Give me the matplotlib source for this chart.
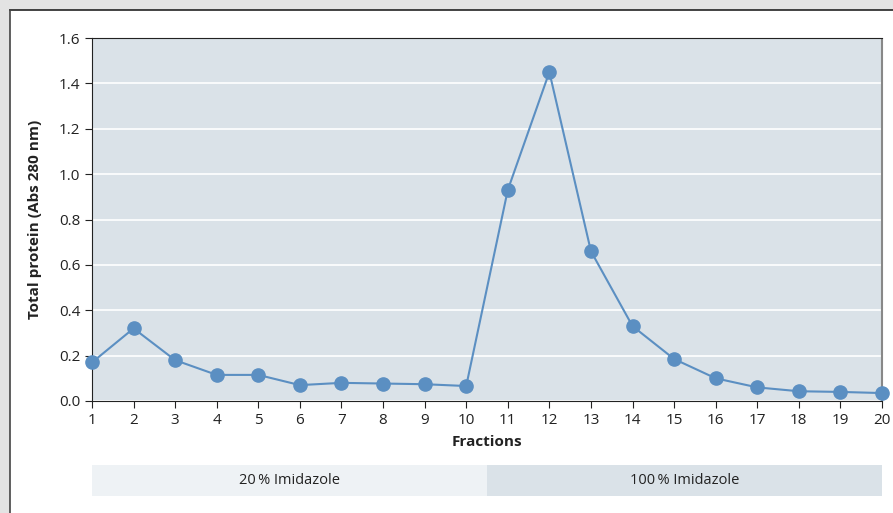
import matplotlib.pyplot as plt
from matplotlib.patches import Rectangle
from matplotlib.transforms import blended_transform_factory

plt.rcParams["font.family"] = ["Open Sans", "DejaVu Sans"]

fractions = list(range(1, 21))
protein = [0.17, 0.32, 0.18, 0.115, 0.115, 0.07, 0.08, 0.077, 0.074, 0.066,
           0.93, 1.45, 0.66, 0.33, 0.185, 0.10, 0.06, 0.043, 0.04, 0.035]

bands = [("20% Imidazole", 1, 10.5, "#eef2f5"),
         ("100% Imidazole", 10.5, 20, "#dae2e8")]

W, H = 893, 513
fig = plt.figure(figsize=(W / 100, H / 100), dpi=100)
fig.patch.set_facecolor("#e3e3e3")

# white panel with dark border on top / left
fig.patches.append(Rectangle((10 / W, 0), 1, 1 - 10 / H, transform=fig.transFigure,
                             facecolor="white", edgecolor="none", zorder=-5))
fig.lines.append(plt.Line2D([10 / W, 1], [1 - 10 / H] * 2, transform=fig.transFigure,
                            color="#222222", lw=1.2, zorder=-4))
fig.lines.append(plt.Line2D([10 / W] * 2, [0, 1 - 10 / H], transform=fig.transFigure,
                            color="#444444", lw=1.2, zorder=-4))

ax = fig.add_axes([92 / W, 1 - 401 / H, (882 - 92) / W, (401 - 38) / H])
ax.set_facecolor("#dae2e8")

ax.plot(fractions, protein, color="#5b8fc2", lw=1.5, marker="o", ms=9.5,
        clip_on=False, zorder=3)

ax.set_xlim(1, 20)
ax.set_ylim(0, 1.6)
ax.set_xticks(fractions)
ax.set_yticks([0, 0.2, 0.4, 0.6, 0.8, 1.0, 1.2, 1.4, 1.6])
ax.set_yticklabels([f"{v:.1f}" for v in ax.get_yticks()])
ax.grid(axis="y", color="white", lw=1.2)
ax.set_axisbelow(True)
ax.tick_params(labelsize=11, length=5, color="#222222", labelcolor="#222222")

for s in ["left", "bottom", "top"]:
    ax.spines[s].set_color("#222222")
ax.spines["right"].set_color("#888888")
ax.spines["right"].set_linewidth(1.5)
ax.spines["right"].set_capstyle("butt")

ax.set_xlabel("Fractions", fontsize=11, fontweight="bold", color="#222222", labelpad=5)
ax.set_ylabel("Total protein (Abs 280 nm)", fontsize=11, fontweight="bold",
              color="#222222", labelpad=12)

trans = blended_transform_factory(ax.transData, fig.transFigure)
y0, y1 = 1 - 496 / H, 1 - 465 / H
for label, x0, x1, col in bands:
    ax.add_patch(Rectangle((x0, y0), x1 - x0, y1 - y0, transform=trans,
                           facecolor=col, edgecolor="none", clip_on=False))
    ax.text((x0 + x1) / 2, (y0 + y1) / 2, label.replace("% ", "\u2009% "),
            transform=trans, ha="center", va="center", fontsize=10.5, color="#222222")

fig.savefig("out.png", dpi=100, facecolor=fig.get_facecolor())
